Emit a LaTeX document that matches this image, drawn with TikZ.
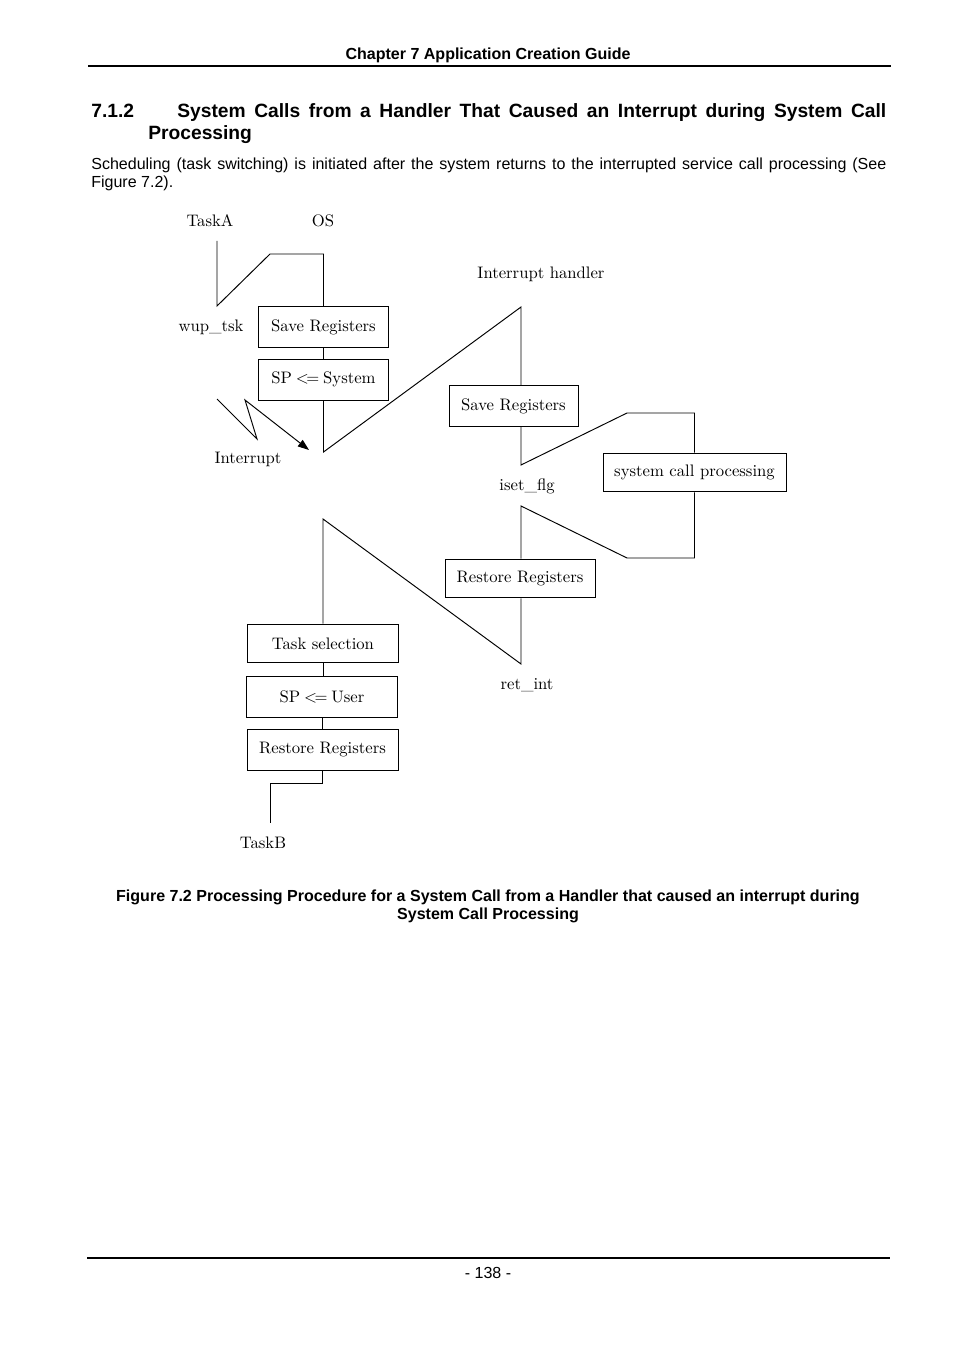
\documentclass[tikz,border=0pt]{standalone}
\usepackage{fontspec}
\newfontfamily\arial{Liberation Sans}
\usetikzlibrary{arrows.meta}
\newcommand{\lesseq}{<\kern-1.6pt=}
\begin{document}
\begin{tikzpicture}[x=0.624pt,y=-0.624pt,
  box/.style={draw, line width=0.6pt, inner sep=0pt, font=\fontsize{10.4}{12}\selectfont},
  lbl/.style={inner sep=0pt, font=\fontsize{10.4}{12}\selectfont},
  ln/.style={line width=0.6pt},
  rule/.style={line width=1.3pt},
  pagetxt/.style={inner sep=0pt, font=\arial\fontsize{10}{12}\selectfont},
  pagebold/.style={inner sep=0pt, font=\arial\bfseries\fontsize{10}{12}\selectfont},
  headbold/.style={inner sep=0pt, font=\arial\bfseries\fontsize{12}{14}\selectfont}]
\fill[white] (0,0) rectangle (954,1351);
\useasboundingbox (0,0) rectangle (954,1351);

% page text
\node[pagebold, anchor=base] (hdr) at (488,60) {Chapter 7 Application Creation Guide};
\coordinate (hl1) at (88,66); \coordinate (hl2) at (891,66);
\draw[rule] (hl1) -- (hl2);
\node[headbold, anchor=base west] (hnum) at (91,118) {7.1.2};
\node[headbold, anchor=base west] (htit1) at (177,118) {\makebox[442.4pt][s]{System Calls from a Handler That Caused an Interrupt during System Call}};
\node[headbold, anchor=base west] (htit2) at (148,140) {Processing};
\node[pagetxt, anchor=base west] (body1) at (91,169.5) {\makebox[496.1pt][s]{Scheduling (task switching) is initiated after the system returns to the interrupted service call processing (See}};
\node[pagetxt, anchor=base west] (body2) at (91,187.5) {Figure 7.2).};
\node[pagebold, anchor=base] (cap1) at (488,901.5) {Figure 7.2 Processing Procedure for a System Call from a Handler that caused an interrupt during};
\node[pagebold, anchor=base] (cap2) at (488,919.5) {System Call Processing};
\coordinate (fl1) at (87,1258); \coordinate (fl2) at (890,1258);
\draw[rule] (fl1) -- (fl2);
\node[pagetxt, anchor=base] (pg) at (488,1278) {- 138 -};

% boxes
\node[box, minimum width=81.7pt, minimum height=25pt] (sr1) at (323.5,327) {Save Registers};
\node[box, minimum width=81.7pt, minimum height=25.6pt] (sps) at (323.5,379.5) {SP\hspace{-1pt} \lesseq\hspace{-1pt} System};
\node[box, minimum width=80.5pt, minimum height=25pt] (sr2) at (513.5,406) {Save Registers};
\node[box, minimum width=114.2pt, minimum height=24.3pt] (scp) at (694.5,472.5) {system call processing};
\node[box, minimum width=93.6pt, minimum height=24.3pt] (rr1) at (520,578.5) {Restore Registers};
\node[box, minimum width=94.8pt, minimum height=24.3pt] (ts) at (323,643.5) {Task selection};
\node[box, minimum width=94.8pt, minimum height=25pt] (spu) at (322,697) {SP\hspace{-1pt} \lesseq\hspace{-1pt} User};
\node[box, minimum width=94.2pt, minimum height=25pt] (rr2) at (322.5,750) {Restore Registers};

% labels
\node[lbl] (taska) at (210,221) {TaskA};
\node[lbl] (os) at (323,221) {OS};
\node[lbl] (wup) at (211,327) {wup\_tsk};
\node[lbl] (intr) at (248,459) {Interrupt};
\node[lbl] (ih) at (541,274) {Interrupt handler};
\node[lbl] (iset) at (527,486) {iset\_flg};
\node[lbl] (ret) at (527,685) {ret\_int};
\node[lbl] (taskb) at (263,843) {TaskB};

% coordinates
\coordinate (ta1) at (217,241);
\coordinate (ta2) at (217,306);
\coordinate (ta3) at (270,254);
\coordinate (ta4) at (323.5,254);
\coordinate (o1) at (323.5,452);
\coordinate (h1) at (521,307);
\coordinate (h2) at (521,465);
\coordinate (h3) at (627,413);
\coordinate (h4) at (694.5,413);
\coordinate (h5) at (694.5,558);
\coordinate (h6) at (627,558);
\coordinate (h7) at (521,506);
\coordinate (h8) at (521,664);
\coordinate (o2) at (323,519);
\coordinate (b1) at (322.5,783);
\coordinate (b2) at (270,783);
\coordinate (b3) at (270,823);
\coordinate (i1) at (217,399);
\coordinate (i2) at (257,439);
\coordinate (i3) at (245,400);
\coordinate (i4) at (309,450);

% connectors
\draw[ln] (ta1) -- (ta2) -- (ta3) -- (ta4) -- (sr1.north);
\draw[ln] (sr1.south) -- (sps.north);
\draw[ln] (sps.south) -- (o1) -- (h1) -- (h1 |- sr2.north);
\draw[ln, -{Triangle[length=7pt, width=5pt]}] (i1) -- (i2) -- (i3) -- (i4);
\draw[ln] (h1 |- sr2.south) -- (h2) -- (h3) -- (h4) -- (scp.north);
\draw[ln] (scp.south) -- (h5) -- (h6) -- (h7) -- (h7 |- rr1.north);
\draw[ln] (h7 |- rr1.south) -- (h8) -- (o2) -- (o2 |- ts.north);
\draw[ln] (ts.south) -- (ts.south |- spu.north);
\draw[ln] (spu.south) -- (spu.south |- rr2.north);
\draw[ln] (rr2.south) -- (b1) -- (b2) -- (b3);
\end{tikzpicture}
\end{document}
